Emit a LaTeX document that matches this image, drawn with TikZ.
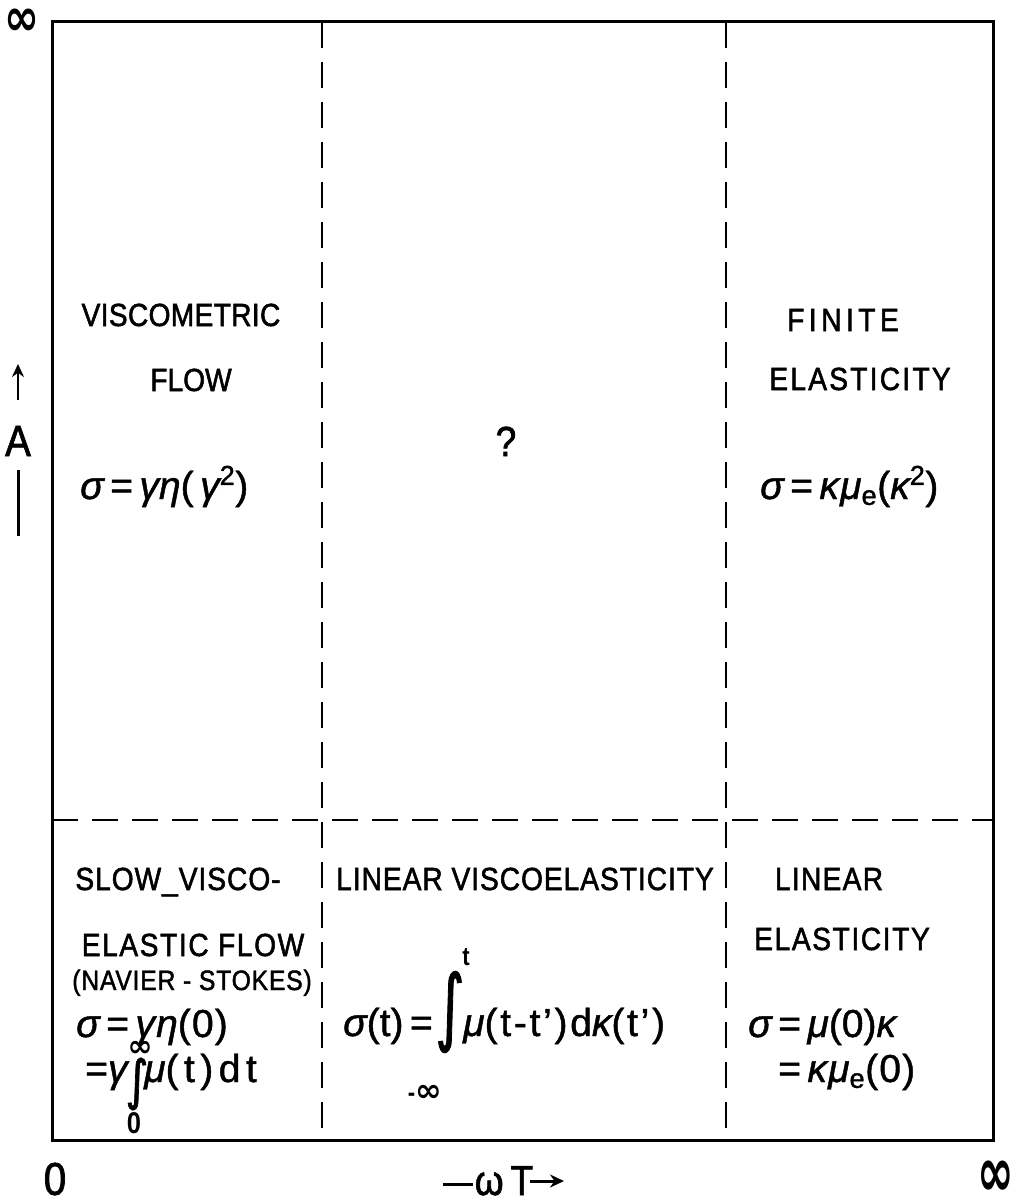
\RequirePackage{fix-cm}
\documentclass[tikz,border=0pt]{standalone}
\usepackage{graphicx}
\usepackage{fontspec}
\setmainfont{Liberation Sans}[FakeBold=1.2]
\newfontfamily\lab{Liberation Sans}[FakeStretch=0.88,FakeBold=1.6]
\newfontfamily\limfont{Liberation Sans Bold}[FakeStretch=0.85]
\newfontfamily\symfont{DejaVu Sans Bold}
\newfontfamily\intfont{DejaVu Sans}[FakeBold=1.5]
\usetikzlibrary{arrows.meta}
\newcommand\grk[1]{{\itshape #1}}
\begin{document}
\begin{tikzpicture}[x=1pt,y=-1pt,
  lbl/.style={font=\lab\fontsize{32}{36}\selectfont, inner sep=0pt, anchor=base},
  frm/.style={font=\fontsize{39}{42}\selectfont, inner sep=0pt, anchor=base west},
  lim/.style={font=\limfont\fontsize{26}{28}\selectfont, inner sep=0pt},
  intsign/.style={font=\intfont\fontsize{40}{40}\selectfont, inner sep=0pt},
  dsh/.style={line width=2.2pt, dash pattern=on 26pt off 14pt},
  frame/.style={line width=3pt},
  axis/.style={line width=3pt}]
\useasboundingbox (0,0) rectangle (1019,1201);

% frame corners
\coordinate (TL) at (52,22);
\coordinate (BR) at (993,1140);
\coordinate (v1t) at (322,22);  \coordinate (v1b) at (322,1140);
\coordinate (v2t) at (726,22);  \coordinate (v2b) at (726,1140);
\coordinate (hl) at (52,820);   \coordinate (hr) at (993,820);

\draw[dsh] (v1t) -- (v1b);
\draw[dsh] (v2t) -- (v2b);
\draw[dsh] (hl) -- (hr);
\draw[frame] (TL) rectangle (BR);

% corner labels
\node[inner sep=0pt, font=\symfont\fontsize{42}{44}\selectfont] (inftop) at (22,22) {\scalebox{1}[1.25]{∞}};
\node[inner sep=0pt, font=\lab\fontsize{46}{48}\selectfont] (zero) at (55,1179) {0};
\node[inner sep=0pt, font=\symfont\fontsize{44}{46}\selectfont] (infright) at (996,1179) {\scalebox{1}[1.6]{∞}};

% vertical axis A
\coordinate (aA) at (18,400);
\coordinate (aB) at (18,364);
\draw[line width=2.5pt, -{Stealth[length=13pt,width=12pt]}] (aA) -- (aB);
\node[inner sep=0pt, font=\lab\fontsize{44}{46}\selectfont] (A) at (18,441) {A};
\coordinate (aC) at (18,470);
\coordinate (aD) at (18,536);
\draw[axis] (aC) -- (aD);

% horizontal axis omega T
\coordinate (h1) at (443,1184);
\coordinate (h2) at (473,1184);
\draw[axis] (h1) -- (h2);
\node[inner sep=0pt, anchor=base, font=\lab\fontsize{42}{44}\selectfont] (wT) at (504,1195) {ω\,T};
\coordinate (h3) at (530,1181);
\coordinate (h4) at (564,1181);
\draw[line width=3pt, -{Stealth[length=14pt,width=13pt]}] (h3) -- (h4);

% upper left
\node[lbl, font=\lab\fontsize{32}{36}\selectfont\addfontfeatures{LetterSpace=1}] (visc) at (181,326) {VISCOMETRIC};
\node[lbl] (flow) at (191,391) {FLOW};
\node[frm] (f1) at (80,499) {\grk{σ}\,=\,\grk{γη}(\,\grk{γ}\textsuperscript{2})};

% upper middle
\node[inner sep=0pt, anchor=base, font=\lab\fontsize{42}{44}\selectfont] (q) at (506,456) {?};

% upper right
\node[lbl, font=\lab\fontsize{32}{36}\selectfont\addfontfeatures{LetterSpace=14}] (finite) at (843,331) {FINITE};
\node[lbl, font=\lab\fontsize{32}{36}\selectfont\addfontfeatures{LetterSpace=7}] (elast1) at (860,390) {ELASTICITY};
\node[frm, font=\fontsize{39}{42}\selectfont\addfontfeatures{LetterSpace=3}] (f2) at (760,499) {\grk{σ}\,=\,\grk{κμ}\textsubscript{e}(\grk{κ}\textsuperscript{2})};

% lower left
\node[lbl, font=\lab\fontsize{32}{36}\selectfont\addfontfeatures{LetterSpace=3}] (slow) at (178,890) {SLOW\_VISCO-};
\node[lbl, font=\lab\fontsize{32}{36}\selectfont\addfontfeatures{LetterSpace=5}] (elflow) at (193,956) {ELASTIC FLOW};
\node[lbl, font=\lab\fontsize{28}{30}\selectfont\addfontfeatures{LetterSpace=3}] (navier) at (192,990) {(NAVIER - STOKES)};
\node[frm, font=\fontsize{39}{42}\selectfont\addfontfeatures{LetterSpace=3}] (f3) at (76,1037) {\grk{σ}\,=\,\grk{γη}(0)};
\node[frm] (f4a) at (85,1082) {=\grk{γ}};
\node[intsign] (int4) at (137,1084) {\scalebox{1.1}[1.35]{∫}};
\node[frm, font=\fontsize{39}{42}\selectfont\addfontfeatures{LetterSpace=14}] (f4b) at (144,1082) {\grk{μ}(t)dt};
\node[lim, font=\symfont\fontsize{30}{32}\selectfont] (l4u) at (140,1049) {∞};
\node[lim, font=\limfont\fontsize{30}{32}\selectfont] (l4d) at (134,1123) {0};

% lower middle
\node[lbl, font=\lab\fontsize{32}{36}\selectfont\addfontfeatures{LetterSpace=3}] (linvisc) at (525,890) {LINEAR VISCOELASTICITY};
\node[frm] (f5a) at (343,1036) {\grk{σ}(t)\,=};
\node[intsign] (int5) at (450,1012) {\scalebox{1.4}[2.1]{∫}};
\node[frm, font=\fontsize{39}{42}\selectfont\addfontfeatures{LetterSpace=7}] (f5b) at (463,1036) {\grk{μ}(t-t')d\grk{κ}(t')};
\node[lim] (l5u) at (466,957) {t};
\node[lim] (l5d) at (425,1093) {-{\symfont\fontsize{32}{34}\selectfont ∞}};

% lower right
\node[lbl, font=\lab\fontsize{32}{36}\selectfont\addfontfeatures{LetterSpace=4}] (linear) at (829,890) {LINEAR};
\node[lbl, font=\lab\fontsize{32}{36}\selectfont\addfontfeatures{LetterSpace=5}] (elast2) at (842,950) {ELASTICITY};
\node[frm] (f6) at (748,1037) {\grk{σ}\,=\,\grk{μ}(0)\grk{κ}};
\node[frm, font=\fontsize{39}{42}\selectfont\addfontfeatures{LetterSpace=3}] (f7) at (778,1082) {=\,\grk{κμ}\textsubscript{e}(0)};
\end{tikzpicture}
\end{document}
